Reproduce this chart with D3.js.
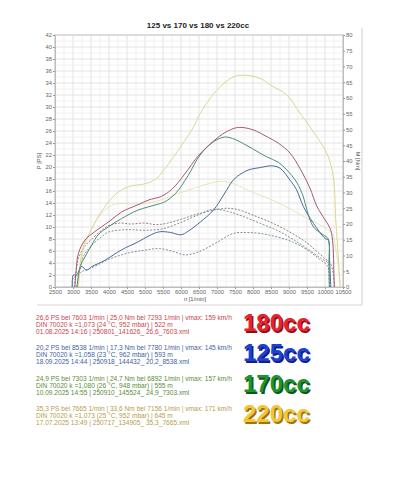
<!DOCTYPE html>
<html>
<head>
<meta charset="utf-8">
<script src="https://cdn.jsdelivr.net/npm/d3@7"></script>
<style>
	body { margin: 0; background: white; }
	svg { display: block; font-family: 'Liberation Sans', Arial, sans-serif; }
</style>
</head>
<body>
<div id="chart"></div>
<script>

const title = '125 vs 170 vs 180 vs 220cc'

const rpmTicks = d3.range(2500, 10501, 500)
const psTicks = d3.range(0, 43, 2)
const nmTicks = d3.range(0, 81, 5)

// [rpm, PS]
const power180 = [[3050,0],[3090,3],[3150,5.6],[3330,7.8],[3600,9.2],[4000,10.9],[4350,12.5],[4800,13.7],[5100,14.5],[5450,15.1],[5750,16.3],[6100,18.8],[6500,22.0],[7000,24.8],[7300,26.0],[7600,26.6],[8000,26.2],[8400,25.0],[8700,24.0],[9030,22.3],[9300,19.8],[9580,16.5],[9770,13.5],[10000,11.2],[10140,9.8],[10210,7.8],[10250,1.5],[10260,0]]
const power125 = [[2980,0],[3010,2],[3100,2],[3150,2.5],[3240,3.4],[3380,2.8],[3520,3.4],[3700,3.9],[3900,4.5],[4350,6.2],[4800,7.5],[5100,8.5],[5400,9.2],[5700,9.1],[6000,8.7],[6200,9.3],[6530,10.8],[6900,12.8],[7200,15.5],[7450,17.8],[7700,19.0],[7920,19.6],[8200,19.9],[8520,20.2],[8750,19.8],[9030,17.8],[9210,16.2],[9400,13.4],[9680,10.6],[10000,8.1],[10090,7.8],[10130,4],[10160,0]]
const power170 = [[3110,0],[3200,3.4],[3330,5],[3520,7],[3700,8.7],[4000,10.1],[4350,11.4],[4800,12.8],[5300,13.7],[5550,14.2],[5850,15.6],[6200,18.6],[6530,22.0],[6900,24.2],[7220,25.0],[7500,24.6],[7730,23.9],[8000,23.0],[8380,21.7],[8700,20.8],[8940,19.5],[9210,17.5],[9400,15.0],[9500,12.8],[9680,10.0],[9950,8.7],[10090,8.0],[10110,4],[10120,0]]
const power220 = [[3150,0],[3200,4],[3300,7],[3500,9.5],[3700,11.7],[4000,14.3],[4300,16],[4600,16.8],[5000,17.2],[5300,18],[5500,19.3],[5900,22.6],[6350,26.7],[6530,28.9],[6990,32.8],[7450,35.0],[7730,35.3],[8190,34.8],[8500,33.6],[8940,32],[9300,29],[9580,26.7],[10050,22.3],[10230,18.4],[10300,11],[10380,4],[10420,0]]

// [rpm, Nm]
const torque180 = [[3050,0],[3080,4],[3150,9],[3300,12.5],[3500,15],[3800,18],[4000,19.5],[4300,20.3],[4600,20.0],[5000,20.3],[5300,19.8],[5600,20.2],[6000,21.5],[6500,23.3],[7000,24.6],[7300,25.0],[7600,24.5],[8000,22.8],[8500,20.5],[9000,17.6],[9500,14.0],[9800,11.0],[10000,9.0],[10150,7.5],[10230,4],[10260,0]]
const torque125 = [[2980,0],[3010,3],[3100,3.2],[3200,4.5],[3330,5.3],[3500,6],[4000,8.8],[4500,10.7],[5000,11.7],[5400,12.2],[5800,11.2],[6100,10.2],[6500,11.2],[7000,14.2],[7450,17.0],[7800,17.3],[8200,17.0],[8700,15.8],[9100,14.3],[9500,11.8],[9850,8.8],[10050,7.0],[10130,4],[10160,0]]
const torque170 = [[3110,0],[3200,6],[3300,10],[3500,13],[3800,16],[4000,17.5],[4500,18.2],[5000,18.0],[5500,18.5],[6000,20.5],[6500,23],[6900,24.7],[7300,24.0],[7700,22.5],[8200,20.2],[8700,17.8],[9100,15.2],[9500,12.2],[9900,9.0],[10090,7.5],[10110,4],[10120,0]]
const torque220 = [[3150,0],[3200,6],[3300,12],[3500,18],[3700,22],[4000,25.5],[4300,26.5],[4700,26.3],[5000,26.5],[5400,27.5],[5900,29.6],[6400,31.5],[6800,32.9],[7150,33.6],[7500,32.6],[8000,30.0],[8500,27.8],[9000,25.0],[9500,21.8],[10000,18.8],[10200,17],[10300,12],[10400,3],[10430,0]]

const runNames = ['180cc', '125cc', '170cc', '220cc']
const runLine1 = [
	'26,6 PS bei 7603 1/min | 25,0 Nm bei 7293 1/min | vmax: 159 km/h',
	'20,2 PS bei 8538 1/min | 17,3 Nm bei 7780 1/min | vmax: 145 km/h',
	'24,9 PS bei 7303 1/min | 24,7 Nm bei 6892 1/min | vmax: 157 km/h',
	'35,3 PS bei 7665 1/min | 33,6 Nm bei 7156 1/min | vmax: 171 km/h'
]
const runLine2 = [
	'DIN 70020 k =1,073 (24 °C, 952 mbar) | 522 m',
	'DIN 70020 k =1,058 (23 °C, 962 mbar) | 593 m',
	'DIN 70020 k =1,080 (26 °C, 948 mbar) | 555 m',
	'DIN 70020 k =1,073 (25 °C, 952 mbar) | 645 m'
]
const runLine3 = [
	'01.08.2025 14:16 | 250801_141626_ 26,6_7603.xml',
	'18.09.2025 14:44 | 250918_144432_ 20,2_8538.xml',
	'10.09.2025 14:55 | 250910_145524_ 24,9_7303.xml',
	'17.07.2025 13:49 | 250717_134905_ 35,3_7665.xml'
]

const powerColors = ['#a65a6e', '#4a6a9c', '#4e8c7c', '#ddd78e']
const torqueColors = ['#8c6e78', '#74849e', '#6e8a84', '#e6e2b0']
const textColors = ['#c8464f', '#3f5f9e', '#5a8c3c', '#b89c4c']
const badgeColors = ['#e8222c', '#1e40d4', '#1c952c', '#f4c534']
const badgeShadows = ['#8e1016', '#0e2280', '#0d5518', '#9c7410']

const width = 400
const height = 500
const plotLeft = 55, plotRight = 343, plotTop = 35, plotBottom = 287

const svg = d3.select('#chart')
	.append('svg')
	.attr('width', width)
	.attr('height', height)

let xScale = d3.scaleLinear()
	.domain([2500, 10500])
	.range([plotLeft, plotRight])

let yScale = d3.scaleLinear()
	.domain([0, 42])
	.range([plotBottom, plotTop])

let y2Scale = d3.scaleLinear()
	.domain([0, 80])
	.range([plotBottom, plotTop])

// outer frame edges (right & bottom)
svg.append('line')
	.attr('x1', 362).attr('x2', 362).attr('y1', 28).attr('y2', 305)
	.attr('stroke', '#cfcfcf')
svg.append('line')
	.attr('x1', 37).attr('x2', 362).attr('y1', 305).attr('y2', 305)
	.attr('stroke', '#d6d6d6')

svg.append('text')
	.attr('x', 198)
	.attr('y', 28)
	.attr('text-anchor', 'middle')
	.attr('font-size', 8)
	.attr('font-weight', 'bold')
	.attr('fill', '#222')
	.text(title)

// grid
let grid = svg.append('g')
grid.selectAll('.vminor')
	.data(d3.range(2500, 10501, 250))
	.enter()
	.append('line')
	.attr('x1', d => xScale(d)).attr('x2', d => xScale(d))
	.attr('y1', plotTop).attr('y2', plotBottom)
	.attr('stroke', d => d % 500 == 0 ? '#dcdcdc' : '#eeeeee')
	.attr('stroke-width', 0.8)
grid.selectAll('.hminor')
	.data(d3.range(0, 42.1, 1))
	.enter()
	.append('line')
	.attr('x1', plotLeft).attr('x2', plotRight)
	.attr('y1', d => yScale(d)).attr('y2', d => yScale(d))
	.attr('stroke', d => d % 2 == 0 ? '#dcdcdc' : '#efefef')
	.attr('stroke-width', 0.8)

svg.append('rect')
	.attr('x', plotLeft).attr('y', plotTop)
	.attr('width', plotRight - plotLeft).attr('height', plotBottom - plotTop)
	.attr('fill', 'none')
	.attr('stroke', '#bdbdbd')
	.attr('stroke-width', 0.8)

xAxis = g => g.attr('transform', `translate(0,${plotBottom})`)
	.call(d3.axisBottom(xScale).tickValues(rpmTicks).tickFormat(d3.format('d')).tickSize(2).tickPadding(1))

yAxis = g => g.attr('transform', `translate(${plotLeft},0)`)
	.call(d3.axisLeft(yScale).tickValues(psTicks).tickFormat(d3.format('d')).tickSize(2).tickPadding(1))

y2Axis = g => g.attr('transform', `translate(${plotRight},0)`)
	.call(d3.axisRight(y2Scale).tickValues(nmTicks).tickFormat(d3.format('d')).tickSize(2).tickPadding(1))

;[xAxis, yAxis, y2Axis].forEach(function(ax){
	let g = svg.append('g').call(ax)
	g.selectAll('text').attr('fill', '#666').attr('font-size', 5.8).attr('font-family', "'Liberation Sans', Arial, sans-serif")
	g.selectAll('path').attr('stroke', '#bdbdbd')
	g.selectAll('line').attr('stroke', '#999')
})

svg.append('text')
	.attr('transform', `translate(41,${(plotTop + plotBottom) / 2}) rotate(-90)`)
	.attr('text-anchor', 'middle')
	.attr('font-size', 5.8)
	.attr('fill', '#555')
	.text('P [PS]')

svg.append('text')
	.attr('transform', `translate(356,${(plotTop + plotBottom) / 2}) rotate(90)`)
	.attr('text-anchor', 'middle')
	.attr('font-size', 5.8)
	.attr('fill', '#555')
	.text('M [Nm]')

svg.append('text')
	.attr('x', 195)
	.attr('y', 301)
	.attr('text-anchor', 'middle')
	.attr('font-size', 5.8)
	.attr('fill', '#555')
	.text('n [1/min]')

svg.append('clipPath')
	.attr('id', 'plotClip')
	.append('rect')
	.attr('x', plotLeft).attr('y', plotTop)
	.attr('width', plotRight - plotLeft).attr('height', plotBottom - plotTop)

let plot = svg.append('g').attr('clip-path', 'url(#plotClip)')

let powerLine = d3.line()
	.x(d => xScale(d[0]))
	.y(d => yScale(d[1]))
	.curve(d3.curveCatmullRom.alpha(0.5))

let torqueLine = d3.line()
	.x(d => xScale(d[0]))
	.y(d => y2Scale(d[1]))
	.curve(d3.curveCatmullRom.alpha(0.5))

let torques = [torque180, torque125, torque170, torque220]
let powers = [power180, power125, power170, power220]

torques.forEach(function(t, i){
	plot.append('path')
		.datum(t)
		.attr('d', torqueLine)
		.attr('fill', 'none')
		.attr('stroke', torqueColors[i])
		.attr('stroke-width', 0.9)
		.attr('stroke-dasharray', i == 3 ? null : '2,1.5')
})

// draw yellow first so it sits underneath
;[3, 1, 2, 0].forEach(function(i){
	plot.append('path')
		.datum(powers[i])
		.attr('d', powerLine)
		.attr('fill', 'none')
		.attr('stroke', powerColors[i])
		.attr('stroke-width', 1)
})

// run info blocks
let blockY = [317, 347, 378, 408]

runNames.forEach(function(name, i){
	let g = svg.append('g')
	;[runLine1[i], runLine2[i], runLine3[i]].forEach(function(line, j){
		g.append('text')
			.attr('x', 36)
			.attr('y', blockY[i] + 2.5 + j * 7.3)
			.attr('font-size', 6.6)
			.attr('fill', textColors[i])
			.text(line)
	})
	g.append('text')
		.attr('x', 244.5)
		.attr('y', blockY[i] + 15.5)
		.attr('font-size', 24)
		.attr('font-weight', 'bold')
		.attr('fill', badgeShadows[i])
		.text(name)
	g.append('text')
		.attr('x', 243)
		.attr('y', blockY[i] + 14.3)
		.attr('font-size', 24)
		.attr('font-weight', 'bold')
		.attr('fill', badgeColors[i])
		.text(name)
})

</script>
</body>
</html>
